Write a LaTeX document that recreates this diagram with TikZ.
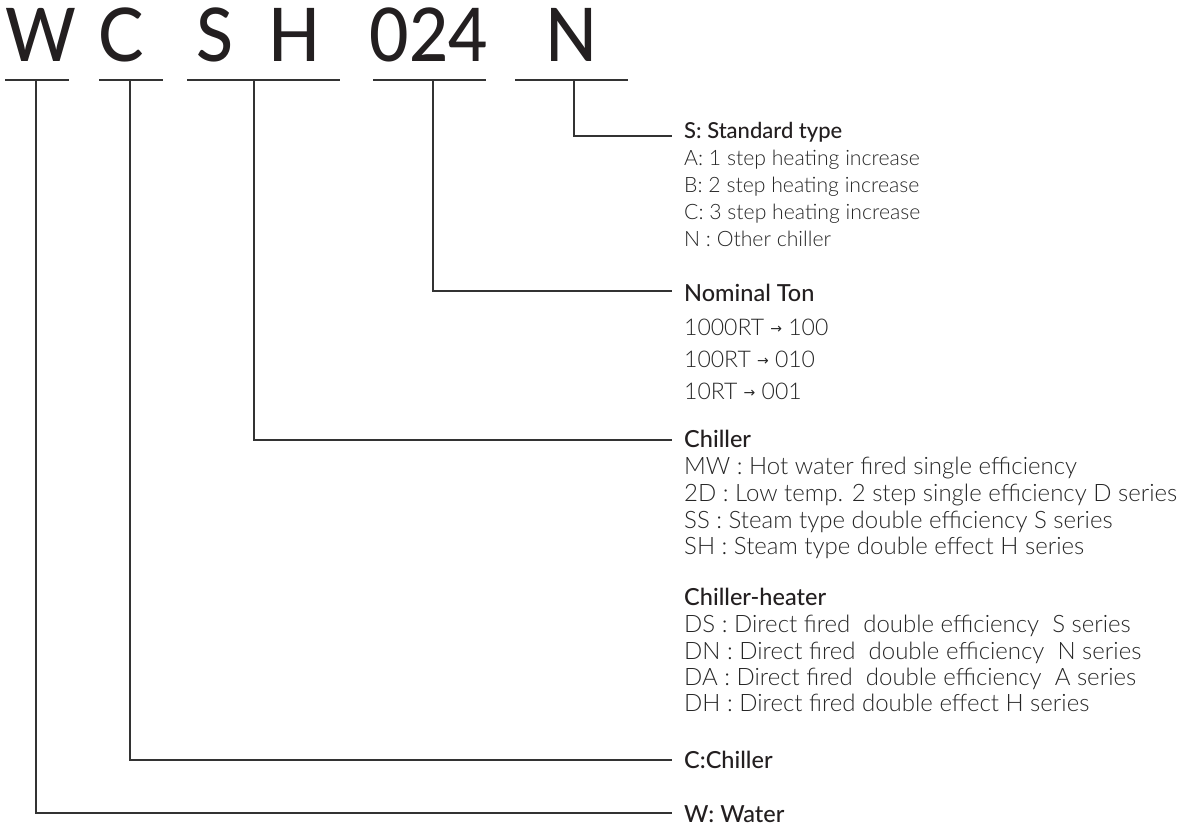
\documentclass[tikz,border=0pt]{standalone}
\usepackage{fontspec}
\setmainfont{Lato}
\newfontfamily\latolight{Lato Light}
\newfontfamily\latomed{Lato Medium}
\newfontfamily\latobig{Lato Medium}[FakeStretch=0.92]
\newfontfamily\symf{DejaVu Sans}
\definecolor{ink}{HTML}{231F20}
\definecolor{ink2}{HTML}{262626}
\definecolor{linec}{HTML}{333333}
\newcommand{\bigf}{\latobig\fontsize{74bp}{80bp}\selectfont}
\newcommand{\headf}{\latomed\fontsize{23.5bp}{26bp}\selectfont}
\newcommand{\headsf}{\latomed\fontsize{22bp}{26bp}\selectfont}
\newcommand{\bodyf}{\latolight\fontsize{24bp}{26bp}\selectfont}
\newcommand{\bodysf}{\latolight\fontsize{21.2bp}{26bp}\selectfont}
\newcommand{\bodymf}{\latolight\fontsize{23bp}{26bp}\selectfont}
\newcommand{\arr}{{\symf\fontsize{14bp}{16bp}\selectfont\raisebox{2bp}{→}}}
\begin{document}
\begin{tikzpicture}[x=1bp,y=-1bp,
  big/.style={font=\bigf, anchor=base, inner sep=0, text=ink},
  head/.style={font=\headf, anchor=base west, inner sep=0, text=ink},
  heads/.style={head, font=\headsf},
  body/.style={font=\bodyf, anchor=base west, inner sep=0, text=ink2},
  bodys/.style={body, font=\bodysf},
  bodym/.style={body, font=\bodymf},
  conn/.style={draw=linec, line width=1.3bp}]
\useasboundingbox (0,0) rectangle (1193,825);
% code letters
\node[big] (lW) at (41,61) {W};
\node[big] (lC) at (121,61) {C};
\node[big] (lS) at (215,61) {S};
\node[big] (lH) at (295,61) {H};
\node[big] (l024) at (429,61) {024};
\node[big] (lN) at (572,61) {N};
% underlines
\coordinate (uW1) at (5,80);   \coordinate (uW2) at (69,80);
\coordinate (uC1) at (99,80);  \coordinate (uC2) at (163,80);
\coordinate (uS1) at (187,80); \coordinate (uS2) at (340,80);
\coordinate (u01) at (373,80); \coordinate (u02) at (486,80);
\coordinate (uN1) at (515,80); \coordinate (uN2) at (628,80);
\draw[conn] (uW1) -- (uW2);
\draw[conn] (uC1) -- (uC2);
\draw[conn] (uS1) -- (uS2);
\draw[conn] (u01) -- (u02);
\draw[conn] (uN1) -- (uN2);
% stems
\coordinate (sW) at (36,80);
\coordinate (sC) at (130,80);
\coordinate (sS) at (254,80);
\coordinate (s0) at (433,80);
\coordinate (sN) at (574,80);
\coordinate (eN) at (672,136);
\coordinate (e0) at (672,291);
\coordinate (eS) at (672,440);
\coordinate (eC) at (672,760);
\coordinate (eW) at (672,813);
\draw[conn] (sN) |- (eN);
\draw[conn] (s0) |- (e0);
\draw[conn] (sS) |- (eS);
\draw[conn] (sC) |- (eC);
\draw[conn] (sW) |- (eW);
% N group
\node[heads] (tN) at (684,138) {S: Standard type};
\node[bodys] (tNa) at (684,165) {A: 1 step heating increase};
\node[bodys] (tNb) at (684,192) {B: 2 step heating increase};
\node[bodys] (tNc) at (684,219) {C: 3 step heating increase};
\node[bodys] (tNd) at (684,246) {N : Other chiller};
% nominal ton
\node[head] (t0) at (684,301) {Nominal Ton};
\node[bodym] (t0a) at (684,335) {1000RT \arr\ 100};
\node[bodym] (t0b) at (684,367) {100RT \arr\ 010};
\node[bodym] (t0c) at (684,399) {10RT \arr\ 001};
% chiller
\node[head] (tS) at (684,447) {Chiller};
\node[body] (tSa) at (684,474) {MW : Hot water fired single efficiency};
\node[body] (tSb) at (684,501) {2D : Low temp. 2 step single efficiency D series};
\node[body] (tSc) at (684,528) {SS : Steam type double efficiency S series};
\node[body] (tSd) at (684,554) {SH : Steam type double effect H series};
% chiller-heater
\node[head] (tH) at (684,605) {Chiller-heater};
\node[body] (tHa) at (684,632) {DS : Direct fired\ \ double efficiency\ \ S series};
\node[body] (tHb) at (684,659) {DN : Direct fired\ \ double efficiency\ \ N series};
\node[body] (tHc) at (684,685) {DA : Direct fired\ \ double efficiency\ \ A series};
\node[body] (tHd) at (684,711) {DH : Direct fired double effect H series};
% C and W
\node[head] (tC) at (684,768) {C:Chiller};
\node[head] (tW) at (684,822) {W: Water};
\end{tikzpicture}
\end{document}
